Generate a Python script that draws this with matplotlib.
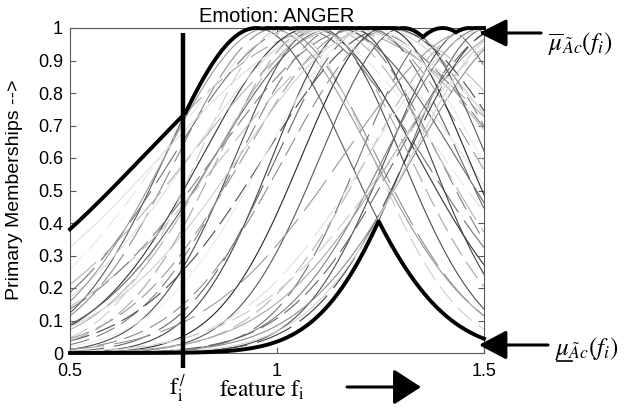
import numpy as np
import matplotlib
matplotlib.use("Agg")
import matplotlib.pyplot as plt
from matplotlib.lines import Line2D

plt.rcParams['font.family'] = ['Liberation Sans', 'DejaVu Sans']
plt.rcParams['mathtext.fontset'] = 'stix'

# ---- axis ranges and ticks ----
x_range = (0.5, 1.5)
y_range = (0.0, 1.0)
x_ticks = [0.5, 1.0, 1.5]
x_tick_labels = ['0.5', '1', '1.5']
y_ticks = [0.0, 0.1, 0.2, 0.3, 0.4, 0.5, 0.6, 0.7, 0.8, 0.9, 1.0]
y_tick_labels = ['0', '0.1', '0.2', '0.3', '0.4', '0.5', '0.6', '0.7', '0.8', '0.9', '1']

# ---- Gaussian primary membership functions: centre and spread ----
centers = [0.95, 1.135, 1.51, 1.00, 1.08, 1.02, 1.05, 1.10, 1.12, 1.15,
           1.17, 1.18, 1.20, 1.22, 1.24, 1.26, 1.28, 1.305, 1.40, 1.465,
           1.48, 1.50, 1.52, 1.55, 1.58, 1.62, 1.54, 1.60, 1.06, 1.14,
           1.25, 0.98, 1.16, 1.20, 1.12, 1.27, 1.49, 1.57, 1.23, 1.09]
sigmas = [0.22, 0.457, 0.197, 0.24, 0.26, 0.21, 0.30, 0.20, 0.33, 0.24,
          0.38, 0.19, 0.28, 0.22, 0.33, 0.20, 0.26, 0.20, 0.20, 0.20,
          0.26, 0.24, 0.30, 0.26, 0.30, 0.34, 0.225, 0.27, 0.34, 0.29,
          0.38, 0.25, 0.44, 0.35, 0.27, 0.30, 0.33, 0.245, 0.26, 0.23]
grays = [0.35, 0.65, 0.40, 0.55, 0.20, 0.80, 0.45, 0.30, 0.88, 0.50,
         0.70, 0.25, 0.60, 0.40, 0.82, 0.15, 0.55, 0.35, 0.45, 0.30,
         0.70, 0.50, 0.88, 0.40, 0.65, 0.80, 0.25, 0.55, 0.90, 0.40,
         0.75, 0.60, 0.88, 0.50, 0.70, 0.30, 0.60, 0.82, 0.92, 0.65]
styles = ['solid', 'dash', 'solid', 'long', 'solid', 'dash', 'long', 'solid', 'solid', 'dash',
          'long', 'solid', 'dash', 'long', 'solid', 'solid', 'dash', 'solid', 'long', 'solid',
          'dash', 'solid', 'long', 'dash', 'solid', 'dash', 'long', 'solid', 'dash', 'solid',
          'long', 'solid', 'solid', 'dash', 'long', 'dash', 'long', 'solid', 'solid', 'dash']

f_prime = 0.773            # selected feature value f_i'
f_prime_span = (-0.046, 0.985)

title = 'Emotion: ANGER'
y_label = 'Primary Memberships -->'

dash_map = {'solid': '-', 'dash': (0, (18, 7)), 'long': (3, (34, 9))}

# ---- figure ----
W, H = 636, 409
fig = plt.figure(figsize=(W / 100, H / 100), dpi=100)
ax = fig.add_axes([70 / W, 1 - 353 / H, 414 / W, 325 / H])

x = np.linspace(x_range[0], x_range[1], 1201)
curves = np.array([np.exp(-(x - c) ** 2 / (2 * s ** 2)) for c, s in zip(centers, sigmas)])

for y, g, st in zip(curves, grays, styles):
    ax.plot(x, y, color=str(g), lw=0.8, linestyle=dash_map[st], zorder=2)

upper = curves.max(axis=0)
lower = curves.min(axis=0)
ax.plot(x, upper, color='black', lw=2.8, zorder=4, clip_on=False, solid_joinstyle='miter')
ax.plot(x, lower, color='black', lw=2.8, zorder=4, clip_on=False)

ax.plot([f_prime, f_prime], list(f_prime_span), color='black', lw=3.2,
        zorder=5, clip_on=False, solid_capstyle='butt')

ax.set_xlim(*x_range)
ax.set_ylim(*y_range)
ax.set_xticks(x_ticks)
ax.set_xticklabels(x_tick_labels)
ax.set_yticks(y_ticks)
ax.set_yticklabels(y_tick_labels)
ax.tick_params(direction='in', length=4, width=0.8, color='0.35',
               top=True, right=True, labelsize=13)
ax.tick_params(axis='x', pad=7)
ax.tick_params(axis='y', pad=5)
for sp in ax.spines.values():
    sp.set_color('0.35')
    sp.set_linewidth(0.8)

ax.set_title(title, fontsize=14.5, pad=4)
fig.text(15 / W, 1 - 190 / H, y_label, rotation=90, fontsize=14,
         ha='center', va='center')


def fp(px, py):
    """pixel position (from top-left) to figure fraction"""
    return px / W, 1 - py / H


# x-axis captions in serif
fig.text(*fp(262, 390), r'$\mathrm{feature\ f_i}$', fontsize=17,
         ha='center', va='center')
fig.text(*fp(177, 389), r'$\mathrm{f_i^{\,/}}$', fontsize=17,
         ha='center', va='center')


def arrow(tail, tip, hl, hw, lw):
    ax.annotate('', xy=(tip[0], H - tip[1]), xytext=(tail[0], H - tail[1]),
                xycoords='figure pixels', textcoords='figure pixels',
                arrowprops=dict(arrowstyle=f'-|>,head_length={hl},head_width={hw}',
                                color='black', lw=lw, shrinkA=0, shrinkB=0,
                                mutation_scale=1),
                annotation_clip=False)


arrow((347, 387), (421, 387), 17, 11, 2.2)
arrow((541, 33), (479, 33), 17, 8.5, 2.2)
arrow((548, 345), (479, 345), 17, 9, 2.2)

fig.text(*fp(548, 44), r'$\overline{\mu}_{\tilde{A}c}(f_i)$', fontsize=18,
         ha='left', va='center')
fig.text(*fp(555, 348), r'$\mu_{\tilde{A}c}(f_i)$', fontsize=18,
         ha='left', va='center')
fig.add_artist(Line2D([557 / W, 572 / W], [1 - 361 / H, 1 - 361 / H],
                      transform=fig.transFigure, color='black', lw=1.2))

fig.savefig('out.png', dpi=100)
